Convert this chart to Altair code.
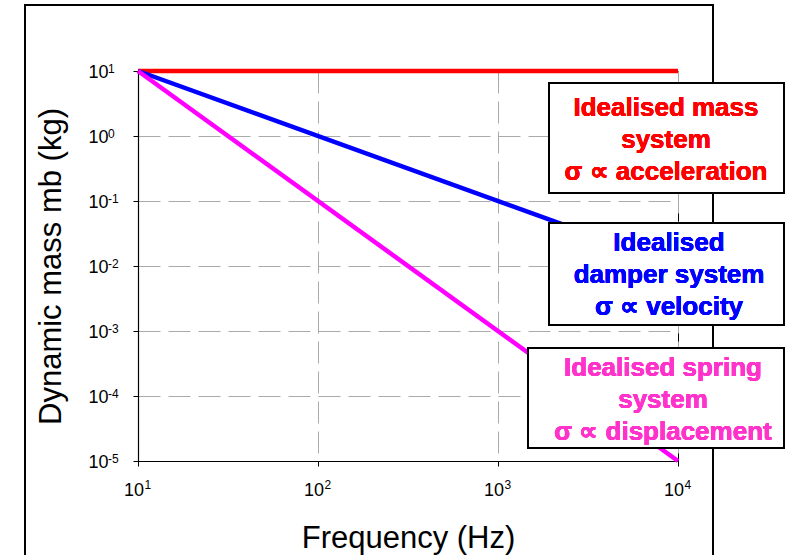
import altair as alt
import pandas as pd

# ---- data ----
freq = [10, 10000]
mass_vals = [10, 10]
damper_vals = [10, 0.01]
spring_vals = [10, 0.00001]
series_names = ["mass", "damper", "spring"]
series_colors = ["#FF0000", "#0000FF", "#FF00FF"]

x_ticks = [10, 100, 1000, 10000]
x_exps = ["1", "2", "3", "4"]
y_ticks = [1e-5, 1e-4, 1e-3, 1e-2, 1e-1, 1, 10]
y_exps = ["-5", "-4", "-3", "-2", "-1", "0", "1"]

mass_text = ["Idealised mass", "system", "σ ∝ acceleration"]
damper_text = ["Idealised", "damper system", "σ ∝ velocity"]
spring_text = ["Idealised spring", "system", "σ ∝ displacement"]

rows = []
for name, vals in zip(series_names, [mass_vals, damper_vals, spring_vals]):
    for f, v in zip(freq, vals):
        rows.append({"series": name, "freq": f, "mass": v})
df = pd.DataFrame(rows)
x_lab = pd.DataFrame({"freq": x_ticks, "exp": x_exps})
y_lab = pd.DataFrame({"mass": y_ticks, "exp": y_exps})

FONT = "Liberation Sans"
W, H = 540, 390

xscale = alt.Scale(type="log", domain=[10, 10000], nice=False)
yscale = alt.Scale(type="log", domain=[1e-5, 10], nice=False)

base = alt.Chart(df)

lines = base.mark_line(strokeWidth=4.5, strokeCap="butt", clip=False).encode(
    x=alt.X(
        "freq:Q",
        scale=xscale,
        axis=alt.Axis(
            values=x_ticks,
            labelExpr="'10'",
            title="Frequency (Hz)",
            labelFontSize=18,
            labelPadding=15,
            labelOffset=-4.5,
            labelFlush=False,
            titleFontSize=31,
            titleFontWeight="normal",
            titleBaseline="alphabetic",
            titleY=86,
            titleX=W / 2,
            titleAlign="center",
        ),
    ),
    y=alt.Y(
        "mass:Q",
        scale=yscale,
        axis=alt.Axis(
            values=y_ticks,
            labelExpr="'10'",
            title="Dynamic mass mb (kg)",
            labelFontSize=18,
            labelPadding=25,
            labelOffset=1,
            labelFlush=False,
            titleFontSize=31,
            titleFontWeight="normal",
            titleAngle=270,
            titleBaseline="alphabetic",
            titleX=-78,
            titleY=H / 2,
            titleAlign="center",
        ),
    ),
    color=alt.Color(
        "series:N",
        scale=alt.Scale(domain=series_names, range=series_colors),
        legend=None,
    ),
    detail="series:N",
)

# exponents of the tick labels
x_sup = alt.Chart(x_lab).mark_text(
    font=FONT, fontSize=12, align="left", baseline="middle", dx=6.5, color="black"
).encode(x=alt.X("freq:Q", scale=xscale), y=alt.value(414), text="exp:N")

y_sup = alt.Chart(y_lab).mark_text(
    font=FONT, fontSize=12, align="left", baseline="middle", dy=-2, color="black"
).encode(x=alt.value(-30), y=alt.Y("mass:Q", scale=yscale), text="exp:N")

# outer frame
frame = base.mark_rect(fill=None, stroke="black", strokeWidth=2).encode(
    x=alt.value(-113), x2=alt.value(575), y=alt.value(-66), y2=alt.value(488)
)


def box(x0, x1, y0, y1, cx, cy, text, color):
    rect = base.mark_rect(fill="white", stroke="black", strokeWidth=2).encode(
        x=alt.value(x0), x2=alt.value(x1), y=alt.value(y0), y2=alt.value(y1)
    )
    txt = base.mark_text(
        font=FONT,
        fontSize=26,
        fontWeight="bold",
        color=color,
        align="center",
        baseline="middle",
        lineHeight=32,
    ).encode(x=alt.value(cx), y=alt.value(cy), text=alt.value(text))
    return rect + txt


b1 = box(411, 646, 12, 122, 528, 37, mass_text, "#FF0000")
b2 = box(411, 646, 152, 254, 531, 172, damper_text, "#0000FF")
b3 = box(390, 646, 277, 377, 525, 297, spring_text, "#FF33CC")

chart = (
    alt.layer(frame, lines, x_sup, y_sup, b1, b2, b3)
    .properties(
        width=W,
        height=H,
        autosize=alt.AutoSizeParams(type="none"),
        padding={"left": 138, "top": 71, "right": 107, "bottom": 94},
        background="white",
    )
    .configure_view(stroke="black", strokeWidth=1)
    .configure_axis(
        labelFont=FONT,
        titleFont=FONT,
        labelColor="black",
        titleColor="black",
        domainColor="black",
        domainWidth=1.2,
        tickColor="black",
        tickSize=5,
        tickWidth=1,
        grid=True,
        gridColor="#AAAAAA",
        gridWidth=1,
        gridDash=[22, 8],
    )
)

chart.save("out.html", embed_options={"renderer": "svg", "actions": False})
